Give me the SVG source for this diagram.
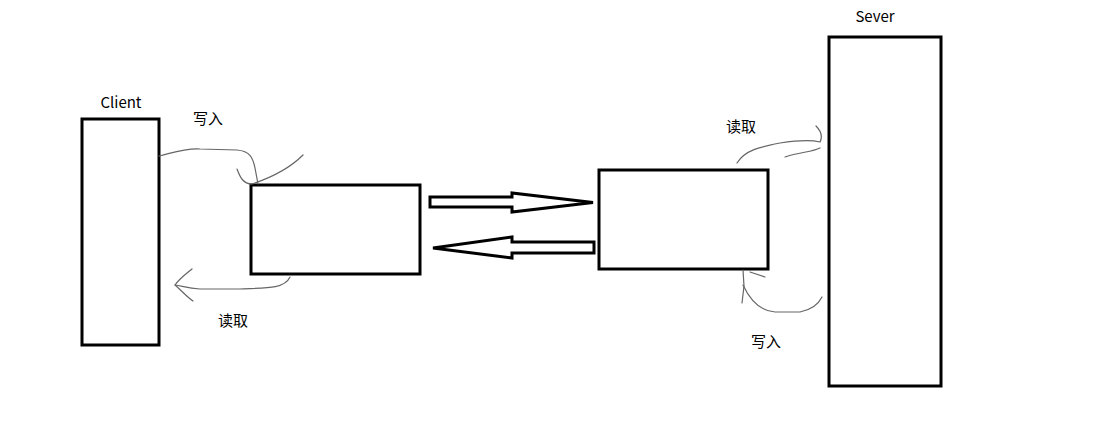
<svg xmlns="http://www.w3.org/2000/svg" width="1099" height="436" viewBox="0 0 1099 436">
<style>
.box{fill:#fff;stroke:#000;stroke-width:3}
.big{fill:#fff;stroke:#000;stroke-width:3}
.lbl{font-family:"Noto Sans CJK SC","Noto Sans",sans-serif;font-size:15px;fill:#000}
.pen{fill:none;stroke:#666;stroke-width:1.2;stroke-linecap:round}
</style>
<rect width="1099" height="436" fill="#fff"/>
<g id="client"><rect class="box" x="82" y="119" width="77" height="226"/><text class="lbl" x="121" y="108" text-anchor="middle">Client</text></g>
<g id="server"><rect class="box" x="829" y="37" width="112" height="349"/><text class="lbl" x="875" y="22" text-anchor="middle">Sever</text></g>
<g id="bufA"><rect class="box" x="251" y="185" width="169" height="89"/></g>
<g id="bufB"><rect class="box" x="599" y="170" width="169" height="99"/></g>
<g id="connectors">
<polygon points="430,197 512,197 512,193 593,202.5 512,212 512,207 430,207" fill="#fff" stroke="#000" stroke-width="3" stroke-linejoin="miter"/>
<polygon points="594,242 512,242 512,237 433,248 512,258 512,253 594,253" fill="#fff" stroke="#000" stroke-width="3" stroke-linejoin="miter"/>
<path class="pen" d="M159,156 C172,153 185,148 200,149 L237,150 C250,151 253,158 255,168 L258,184"/>
<path class="pen" d="M237,169 C240,177 243,184 252,184 C270,178 290,168 303,155"/>
<path class="pen" d="M290,277 C285,288 270,288 240,289 L200,289 C188,288 182,286 175,285"/>
<path class="pen" d="M175,285 C180,278 186,274 192,269 M175,285 C182,291 187,297 193,301"/>
<path class="pen" d="M737,163 C745,150 760,147 780,143 C800,140 812,140 820,142 C823,136 820,130 816,126"/>
<path class="pen" d="M785,157 C800,152 812,152 820,148"/>
<path class="pen" d="M743,270 L744,286 L742,303"/>
<path class="pen" d="M743,285 C750,300 760,311 775,312 L800,312 C810,310 818,305 822,297"/>
<path class="pen" d="M750,272 L765,277"/>
</g>
<text class="lbl" x="193" y="124">写入</text>
<text class="lbl" x="218" y="326">读取</text>
<text class="lbl" x="726" y="132">读取</text>
<text class="lbl" x="751" y="347">写入</text>
</svg>
